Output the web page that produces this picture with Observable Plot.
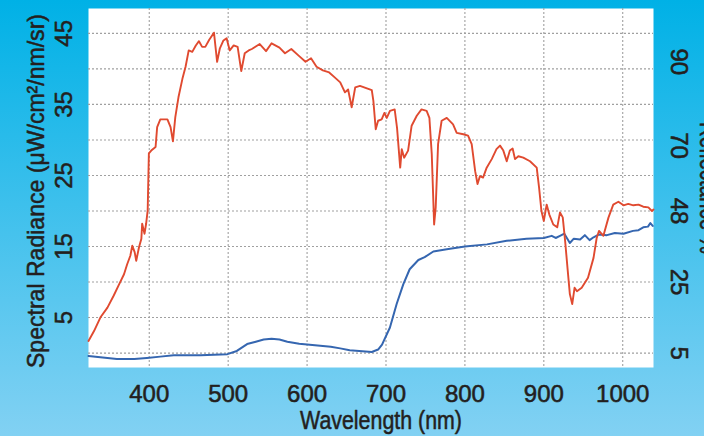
<!DOCTYPE html>
<html><head><meta charset="utf-8">
<script src="https://cdn.jsdelivr.net/npm/d3@7"></script>
<script src="https://cdn.jsdelivr.net/npm/@observablehq/plot@0.6"></script>
<style>
html,body{margin:0;padding:0;}
body{width:704px;height:436px;overflow:hidden;background:linear-gradient(#00b1e6,#82d1f3);}
#chart svg{display:block;}
</style></head><body><div id="chart"></div>
<script>
// Spectral radiance (red), µW/cm²/nm/sr
const radianceWavelengths = [323,330,338,347,355,361,368,372,376,378.5,381.5,383.5,387,390,391,394,396,398,399.5,402.5,408,410,414,423,427,430,433,437,442,446,450,454.5,459,463,467,471,476,482,486,489.5,494,498,502,507,512,516.6,521,526,530,540,548,555,565,572,580,590,598,605,612,620,628,635,642,648,652,656.5,661,667,682,684,687,690,694.5,698,701,705,711,714,718,720,723,728,732.5,739,745,751.5,755,758,761,763,766,770.5,777,785,789.6,798,804,808.6,813,816,819,823,827.6,834,840,844.5,848.7,853,857,860.5,863.5,867.7,874,882.5,891,894,897,900,903.6,907,912,917,920.5,924,927,930,933,936,939,942,948,956,963,967,970,975.5,982,988,994.5,1001,1007,1013.5,1020,1026,1032.5,1037,1039];
const radianceValues = [1.7,3.1,5.0,6.4,8.1,9.5,11.1,12.5,13.7,15.1,14.2,13.0,14.9,16.1,18.2,16.8,18.2,20.1,28.1,28.5,29.0,31.8,32.9,32.9,31.8,29.8,33.2,36.0,38.6,40.3,42.6,42.4,43.3,43.9,43.1,43.1,44.1,45.1,41.0,42.9,44.0,44.3,42.6,43.3,43.1,39.7,42.2,42.6,42.8,43.5,42.5,43.6,43.0,42.2,42.8,41.8,41.0,41.5,40.3,39.8,39.5,38.8,38.1,36.7,37.1,34.6,37.4,37.6,37.0,35.5,31.5,32.7,32.9,33.8,33.1,34.1,34.3,31.7,26.1,28.7,27.5,28.5,32.0,33.4,34.3,34.1,33.1,28.0,18.1,20.5,29.4,32.7,33.1,32.2,31.0,30.8,30.6,29.4,25.6,23.8,24.9,24.7,26.1,27.3,28.7,29.2,28.5,27.0,28.5,28.8,27.3,27.7,27.5,27.0,26.1,23.3,20.0,18.6,20.9,19.5,18.1,17.7,19.8,19.1,15.8,12.0,8.3,6.9,9.2,8.7,9.2,10.6,13.4,16.2,17.2,16.5,19.1,20.9,21.3,20.8,21.0,20.8,20.9,20.6,20.5,20.0,20.2];

// Reflectance (blue), drawn against the left axis units
const reflectanceWavelengths = [323,338,359,381,397,414,431,465,499,511,524,535,545,555,565,575,590,610,630,642,654,682,690,695,705,713.5,722,730,741,749,760,777,800,828,853,878,900,910,915,920.5,926,933,938,946,952,958,963,970,980,990,1001,1013,1020,1026,1032,1035,1038];
const reflectanceValues = [-0.4,-0.6,-0.85,-0.85,-0.7,-0.5,-0.3,-0.3,-0.15,0.3,1.27,1.6,1.9,2.0,1.9,1.6,1.3,1.1,0.9,0.66,0.4,0.15,0.5,1.2,3.6,6.9,9.7,11.8,13.1,13.5,14.3,14.6,15.0,15.3,15.8,16.1,16.2,16.5,16.2,16.5,16.8,15.5,16.1,16.0,16.6,15.9,16.3,16.7,16.6,16.9,16.8,17.2,17.3,17.7,17.8,18.3,17.9];

const xTicks = [400,500,600,700,800,900,1000];
const gridYTicks = [0,5,10,15,20,25,30,35,40,45];
const leftTicks = [5,15,25,35,45];
const rightTickLabels = ["90","70","48","25","5"];
const rightTickAxisValues = [41,29.2,20,10,0];

const xLabel = "Wavelength (nm)";
const leftLabel = "Spectral Radiance (μW/cm²/nm/sr)";
const rightLabel = "Reflectance %";

const font = "'Liberation Sans', Arial, sans-serif";
const ink = "#231f20";
const textStyle = {fontFamily: font, fill: ink, stroke: ink, strokeWidth: 0.55};

const chart = Plot.plot({
  width: 704,
  height: 436,
  marginTop: 8,
  marginRight: 51,
  marginBottom: 69,
  marginLeft: 88,
  style: {background: "transparent", overflow: "visible"},
  x: {domain: [323, 1039], axis: null},
  y: {domain: [-2.03, 48.5], axis: null},
  marks: [
    Plot.frame({fill: "white", stroke: "none"}),
    Plot.gridX(xTicks, {stroke: "#a0a0a0", strokeOpacity: 1, strokeWidth: 1.1, strokeDasharray: "2,2"}),
    Plot.gridY(gridYTicks, {stroke: "#a0a0a0", strokeOpacity: 1, strokeWidth: 1.1, strokeDasharray: "2,2"}),
    Plot.line(reflectanceValues, {x: reflectanceWavelengths, y: reflectanceValues, stroke: "#3566b0", strokeWidth: 2}),
    Plot.line(radianceValues, {x: radianceWavelengths, y: radianceValues, stroke: "#e04a30", strokeWidth: 1.9}),
    Plot.text(leftTicks, {y: d => d, text: d => String(d), frameAnchor: "left", dx: -24, rotate: -90, textAnchor: "middle", lineAnchor: "middle", fontSize: 24, ...textStyle}),
    Plot.text(rightTickLabels, {y: (d, i) => rightTickAxisValues[i], text: d => d, frameAnchor: "right", dx: 25, rotate: 90, textAnchor: "middle", lineAnchor: "middle", fontSize: 24, ...textStyle}),
    Plot.text(xTicks, {x: d => d, text: d => String(d), frameAnchor: "bottom", dy: 27, textAnchor: "middle", lineAnchor: "middle", fontSize: 24, ...textStyle}),
    Plot.text([xLabel], {text: d => d, frameAnchor: "bottom", dx: 10, dy: 61, textAnchor: "middle", lineAnchor: "bottom", fontSize: 26, ...textStyle}),
    Plot.text([leftLabel], {text: d => d, frameAnchor: "left", dx: -45, dy: 3, rotate: -90, textAnchor: "middle", lineAnchor: "bottom", fontSize: 24.5, ...textStyle}),
    Plot.text([rightLabel], {text: d => d, frameAnchor: "right", dx: 46, dy: 0, rotate: 90, textAnchor: "middle", lineAnchor: "bottom", fontSize: 26, ...textStyle})
  ]
});
// condense the titles to the reference's narrow type
const condensed = {[xLabel]: 162, [leftLabel]: 354, [rightLabel]: 132};
chart.querySelectorAll("text").forEach(t => {
  const w = condensed[t.textContent];
  if (w) { t.setAttribute("textLength", w); t.setAttribute("lengthAdjust", "spacingAndGlyphs"); }
});
document.getElementById("chart").appendChild(chart);
</script></body></html>
